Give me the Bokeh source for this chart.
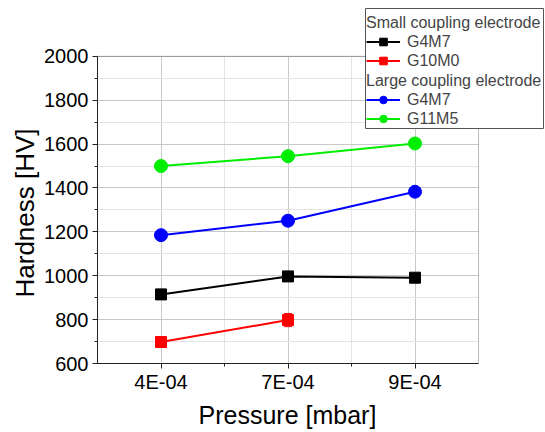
from bokeh.plotting import figure
from bokeh.models import (FixedTicker, SingleIntervalTicker, Legend, LegendItem, Title,
                          BoxAnnotation, Whisker, ColumnDataSource, TeeHead, Range1d)
from bokeh.embed import file_html
from bokeh.resources import INLINE

# ---- data ----
x_labels = ["4E-04", "7E-04", "9E-04"]
x_pos = [1, 2, 3]
y_min, y_max = 600, 2000
small_g4m7 = [915, 997, 991]
small_g10m0 = [698, 798]
small_g10m0_err = [8, 30]
large_g4m7 = [1185, 1251, 1383]
large_g11m5 = [1500, 1545, 1603]

FONT = "Liberation Sans"

# ---- layout (pixels) ----
W, H = 545, 432
LEFT, BOTTOM = 97, 68           # axis panels
PLOT_RIGHT_PX, PLOT_TOP_PX = 478, 56   # visible plot box edges (canvas px)
frame_w = W - LEFT
frame_h = H - BOTTOM
xpx_per_unit = (PLOT_RIGHT_PX - LEFT) / 3.0
ypx_per_unit = (frame_h - PLOT_TOP_PX) / float(y_max - y_min)
x_end = 0.5 + frame_w / xpx_per_unit
y_end = y_min + frame_h / ypx_per_unit

p = figure(width=W, height=H, output_backend="svg", toolbar_location=None,
           x_range=Range1d(0.5, x_end), y_range=Range1d(y_min, y_end),
           min_border_left=LEFT, min_border_right=0, min_border_top=0,
           min_border_bottom=BOTTOM)

p.background_fill_color = "white"
p.border_fill_color = "white"
p.outline_line_color = None

# axes
p.xaxis.ticker = FixedTicker(ticks=x_pos, minor_ticks=[1.5, 2.5])
p.xaxis.major_label_overrides = {xp: lab for xp, lab in zip(x_pos, x_labels)}
p.yaxis.ticker = SingleIntervalTicker(interval=200, num_minor_ticks=2)
p.xaxis.bounds = (0.5, 3.5)
p.yaxis.bounds = (y_min, y_max)

for ax in (p.xaxis[0], p.yaxis[0]):
    ax.axis_line_color = "#222222"
    ax.major_tick_line_color = "#222222"
    ax.minor_tick_line_color = "#222222"
    ax.major_tick_in = 0
    ax.major_tick_out = 5
    ax.minor_tick_in = 0
    ax.minor_tick_out = 3
    ax.major_label_text_font = FONT
    ax.major_label_text_font_size = "20px"
    ax.major_label_text_color = "black"

p.xaxis.major_label_standoff = 2
p.yaxis.major_label_standoff = 4

# axis titles (placed as side titles so they can be aligned to the plot box)
x_title = Title(text="Pressure [mbar]", align="left", offset=101, standoff=7,
                text_font=FONT, text_font_size="25px", text_font_style="normal",
                text_color="black")
y_title = Title(text="Hardness [HV]", align="left", offset=66, standoff=4,
                text_font=FONT, text_font_size="26px", text_font_style="normal",
                text_color="black")
p.add_layout(x_title, "below")
p.add_layout(y_title, "left")

# grid, limited to the plot box
p.xgrid.grid_line_color = "#c8c8c8"
p.ygrid.grid_line_color = "#c8c8c8"
p.xgrid.minor_grid_line_color = "#e4e4e4"
p.ygrid.minor_grid_line_color = "#e4e4e4"
p.xgrid.bounds = (0.5, 3.5)
p.xgrid.cross_bounds = (y_min, y_max)
p.ygrid.bounds = (y_min, y_max)
p.ygrid.cross_bounds = (0.5, 3.5)

# plot box border
p.add_layout(BoxAnnotation(left=0.5, right=3.5, bottom=y_min, top=y_max,
                           fill_alpha=0, line_color="#222222", line_width=1))

# series
r1l = p.line(x_pos, small_g4m7, line_color="black", line_width=2)
r1m = p.scatter(x_pos, small_g4m7, marker="square", size=11, fill_color="black", line_color="black")

err_src = ColumnDataSource(dict(x=x_pos[:2],
                                upper=[v + e for v, e in zip(small_g10m0, small_g10m0_err)],
                                lower=[v - e for v, e in zip(small_g10m0, small_g10m0_err)]))
p.add_layout(Whisker(source=err_src, base="x", upper="upper", lower="lower", dimension="height",
                     line_color="red", line_width=1, level="glyph",
                     upper_head=TeeHead(size=8, line_color="red"),
                     lower_head=TeeHead(size=8, line_color="red")))
r2l = p.line(x_pos[:2], small_g10m0, line_color="red", line_width=2)
r2m = p.scatter(x_pos[:2], small_g10m0, marker="square", size=11, fill_color="red", line_color="red")

r3l = p.line(x_pos, large_g4m7, line_color="#0000ff", line_width=2)
r3m = p.scatter(x_pos, large_g4m7, marker="circle", size=13, fill_color="#0000ff", line_color="#0000ff")

r4l = p.line(x_pos, large_g11m5, line_color="#00ee00", line_width=2)
r4m = p.scatter(x_pos, large_g11m5, marker="circle", size=13, fill_color="#00ee00", line_color="#00ee00")

# legend box (screen units relative to the frame's bottom-left corner)
p.add_layout(BoxAnnotation(left=268, right=446, bottom=235, top=355,
                           left_units="screen", right_units="screen",
                           bottom_units="screen", top_units="screen",
                           fill_color="white", fill_alpha=1.0,
                           line_color="#555555", line_width=1, line_alpha=1.0))


def make_legend(title, items, loc):
    return Legend(items=items, title=title, location=loc,
                  padding=0, spacing=0, margin=0,
                  glyph_width=34, glyph_height=19, label_height=19,
                  label_standoff=7, title_standoff=0,
                  label_text_font=FONT, label_text_font_size="16px",
                  title_text_font=FONT, title_text_font_size="16px",
                  title_text_font_style="normal",
                  border_line_color=None, background_fill_alpha=0)


leg_a = make_legend("Small coupling electrode",
                    [LegendItem(label="G4M7", renderers=[r1l, r1m]),
                     LegendItem(label="G10M0", renderers=[r2l, r2m])], (269, 293))
leg_b = make_legend("Large coupling electrode",
                    [LegendItem(label="G4M7", renderers=[r3l, r3m]),
                     LegendItem(label="G11M5", renderers=[r4l, r4m])], (269, 235))
p.add_layout(leg_a)
p.add_layout(leg_b)

open("out.html", "w").write(file_html(p, INLINE))
